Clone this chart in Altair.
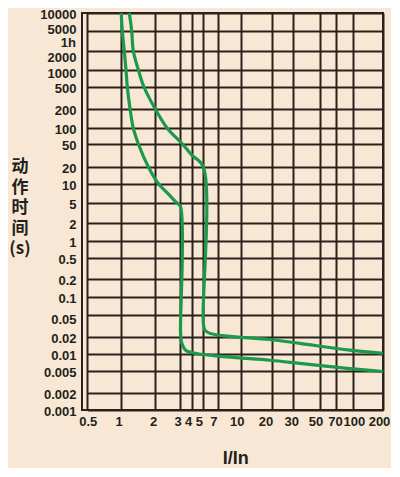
import altair as alt
import pandas as pd

# ---- data ----
x_ticks = [0.5, 1, 2, 3, 4, 5, 7, 10, 20, 30, 50, 70, 100, 200]
y_ticks = [10000, 5000, 2000, 1000, 500, 200, 100, 50, 20, 10, 5, 2, 1,
           0.5, 0.2, 0.1, 0.05, 0.02, 0.01, 0.005, 0.002, 0.001]
hour_label = ["1h"]
hour_value = [3600]

curve1_x = [1.01, 1.033, 1.075, 1.113, 1.143, 1.207, 1.29, 1.427, 1.747, 2.11, 2.44,
            2.86, 3.07, 3.07, 3.1, 3.17, 3.47, 4.41, 7.97, 19.2, 34, 94, 200]
curve1_t = [10000, 5000, 2000, 1000, 500, 200, 100, 50, 20, 10, 7.2,
            5.0, 4.2, 0.027, 0.0195, 0.0153, 0.0115, 0.0100, 0.0087, 0.0076, 0.0067, 0.0054, 0.0048]

curve2_x = [1.19, 1.249, 1.29, 1.43, 1.60, 2.0, 2.45, 3.19, 4.0, 5.0,
            5.0, 5.19, 5.81, 7.97, 19.2, 34, 94, 200]
curve2_t = [10000, 5000, 2000, 1000, 500, 200, 100, 50, 32, 20,
            0.0356, 0.0265, 0.0231, 0.0206, 0.0179, 0.0152, 0.0115, 0.0101]

# ---- scale layout: the printed grid is hand spaced, so a piecewise scale ----
x_grid_px = [5.3, 38.7, 73, 97.5, 109.7, 121.3, 136.3, 159.3, 189.5, 211.3, 238, 254, 270.8, 301]
y_grid_px = [0, 18, 38, 57, 74, 95.5, 115.2, 130.7, 153.8, 170.5, 189.7, 210, 228,
             245, 266, 284, 302, 323.8, 340.5, 357.5, 380, 397]

y_dom = list(reversed(y_ticks))
y_rng = list(reversed(y_grid_px))

rows = []
for name, xs, ts in (("a", curve1_x, curve1_t), ("b", curve2_x, curve2_t)):
    for k, (xv, tv) in enumerate(zip(xs, ts)):
        rows.append({"curve": name, "k": k, "I": xv, "t": tv})
df = pd.DataFrame(rows)

GRID = "#2a211d"
TXT = "#231f20"
GREEN = "#1b9a4c"
FONT = "Liberation Sans"

xscale = alt.Scale(type="log", domain=x_ticks, range=x_grid_px, nice=False)
yscale = alt.Scale(type="log", domain=y_dom, range=y_rng, nice=False)

# label nudges as printed in the reference
x_label_offset = {
    "condition": [
        {"test": "datum.value == 4", "value": -3.5},
        {"test": "datum.value == 5", "value": -4.5},
        {"test": "datum.value == 7", "value": -5},
        {"test": "datum.value == 10", "value": -4.5},
        {"test": "datum.value == 20", "value": -6},
        {"test": "datum.value == 50", "value": -4.5},
        {"test": "datum.value == 70", "value": -1},
        {"test": "datum.value == 100", "value": 1},
        {"test": "datum.value == 200", "value": -4},
        {"test": "datum.value == 0.5", "value": 0.5},
    ],
    "value": -2,
}
y_label_offset = {
    "condition": [
        {"test": "datum.value == 5000", "value": -2},
        {"test": "datum.value == 2000", "value": 6},
        {"test": "datum.value == 1000", "value": 3},
        {"test": "datum.value == 0.05", "value": 4},
    ],
    "value": 1.5,
}

xaxis = alt.Axis(values=x_ticks, format="~g", grid=True, gridColor=GRID, gridWidth=2,
                 gridOpacity=1, ticks=False, domain=False,
                 labelOverlap=False, labelFont=FONT, labelFontSize=13,
                 labelFontWeight="bold", labelColor=TXT, labelPadding=5,
                 labelOffset=x_label_offset, labelFlush=False,
                 title="I/In", titleFont=FONT, titleFontSize=18, titleFontWeight="bold",
                 titleColor=TXT, titlePadding=21)
yaxis = alt.Axis(values=y_ticks, format="~g", grid=True, gridColor=GRID, gridWidth=2,
                 gridOpacity=1, ticks=False, domain=False,
                 labelOverlap=False, labelFont=FONT, labelFontSize=13,
                 labelFontWeight="bold", labelColor=TXT, labelPadding=6,
                 labelOffset=y_label_offset, labelFlush=False, title=None)

lines = alt.Chart(df).mark_line(
    color=GREEN, strokeWidth=3.2, interpolate="catmull-rom", strokeCap="butt", strokeJoin="round"
).encode(
    x=alt.X("I:Q", scale=xscale, axis=xaxis),
    y=alt.Y("t:Q", scale=yscale, axis=yaxis),
    detail="curve:N",
    order="k:Q",
)

hour = alt.Chart(pd.DataFrame({"lab": hour_label, "t": hour_value})).mark_text(
    font=FONT, fontSize=13, fontWeight="bold", color=TXT, align="right", baseline="middle", dy=5
).encode(
    x=alt.value(-6),
    y=alt.Y("t:Q", scale=yscale, axis=yaxis),
    text="lab:N",
)

ytitle = alt.Chart(pd.DataFrame({"a": [0]})).mark_text(
    text=["动", "作", "时", "间", "(s)"], font="Noto Sans CJK SC", fontSize=17,
    fontWeight="bold", color=TXT, align="center", baseline="top", lineHeight=20.5
).encode(
    x=alt.value(-62),
    y=alt.value(146),
)

chart = alt.layer(lines, hour, ytitle).properties(
    width=301, height=397,
    padding={"left": 74, "top": 5, "right": 8, "bottom": 58},
    autosize=alt.AutoSizeParams(type="none"),
).configure(
    background="#f8e7d4",
).configure_view(
    stroke=GRID, strokeWidth=2,
)

chart.save("out.html", embed_options={"renderer": "svg", "actions": False})
